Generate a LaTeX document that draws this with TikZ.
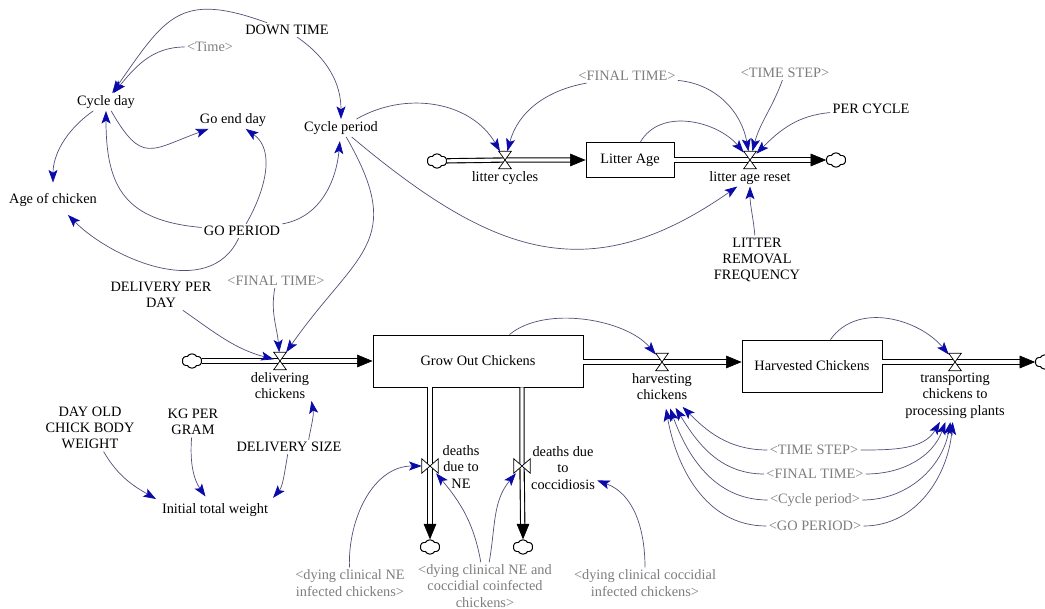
\documentclass[tikz,border=0pt]{standalone}
\usepackage{fontspec}
\setmainfont{Liberation Serif}
\usetikzlibrary{arrows.meta,shapes.symbols}

\definecolor{linkgray}{RGB}{80,80,120}
\definecolor{tipblue}{RGB}{10,10,170}
\definecolor{shadowgray}{RGB}{125,125,125}

\tikzset{
  var/.style={font=\fontsize{10.2}{11.6}\selectfont, align=center, inner sep=1.5pt},
  shadow/.style={var, text=shadowgray},
  stock/.style={var, draw, line width=0.6pt},
  link/.style={draw=linkgray, line width=0.5pt, -{Stealth[length=9pt, width=6.4pt, inset=2pt, color=tipblue]}},
  pipe/.style={draw=black, double=white, double distance=2.2pt, line width=0.8pt},
  pipeend/.style={pipe, shorten >=10pt},
  flowtip/.style={-{Triangle[length=11pt, width=9pt]}, line width=0.4pt},
  valveh/.style={minimum width=0.3cm, minimum height=0.42cm, inner sep=0},
  valvev/.style={minimum width=0.4cm, minimum height=0.35cm, inner sep=0},
  valveline/.style={draw, fill=white, line width=0.5pt},
  cloudy/.style={cloud, cloud puffs=6, cloud puff arc=120, aspect=1.3, draw, line width=0.7pt,
    minimum width=0.48cm, minimum height=0.36cm, inner sep=0}
}

\begin{document}
\begin{tikzpicture}[x=0.025cm, y=0.025cm]
\useasboundingbox (0,0) rectangle (1045,-609);

\node[var] (down) at (287,-30) {DOWN TIME};
\node[shadow] (time) at (210,-47) {\textless Time\textgreater};
\node[var] (cyday) at (106,-102) {Cycle day};
\node[var] (goend) at (233,-120) {Go end day};
\node[var] (cyper) at (341,-128) {Cycle period};
\node[var] (age) at (53,-200) {Age of chicken};
\node[var] (goper) at (242,-231) {GO PERIOD};

\node[cloudy] (cloudA) at (437,-161) {};
\node[valveh] (litcyc) at (505,-160) {};
\node[var, below] (litcycl) at (litcyc.south) {litter cycles};
\node[stock, minimum width=2.2cm, minimum height=0.875cm] (litage) at (630,-160) {Litter Age};
\node[valveh] (litres) at (750,-160) {};
\node[var, below] (litresl) at (litres.south) {litter age reset};
\node[cloudy] (cloudB) at (836,-160) {};
\node[shadow] (ftop) at (627,-76) {\textless FINAL TIME\textgreater};
\node[shadow] (tstep) at (785,-73) {\textless TIME STEP\textgreater};
\node[var] (percyc) at (871,-109) {PER CYCLE};
\node[var] (lrf) at (757,-260) {LITTER\\REMOVAL\\FREQUENCY};

\node[var] (dpd) at (161,-295) {DELIVERY PER\\DAY};
\node[shadow] (fmid) at (276,-281) {\textless FINAL TIME\textgreater};
\node[cloudy] (cloudC) at (192,-361) {};
\node[valveh] (deliv) at (280,-361) {};
\node[var, below] (delivl) at (deliv.south) {delivering\\chickens};
\node[stock, minimum width=5.25cm, minimum height=1.3cm] (grow) at (478,-361) {Grow Out Chickens};
\node[valveh] (harv) at (662,-362) {};
\node[var, below] (harvl) at (harv.south) {harvesting\\chickens};
\node[stock, minimum width=3.5cm, minimum height=1.3cm] (hchk) at (812,-366) {Harvested Chickens};
\node[valveh] (trans) at (955,-362) {};
\node[var, below] (transl) at (trans.south) {transporting\\chickens to\\processing plants};
\node[cloudy] (cloudD) at (1045,-362) {};

\node[var] (dob) at (90,-428) {DAY OLD\\CHICK BODY\\WEIGHT};
\node[var] (kg) at (193,-422) {KG PER\\GRAM};
\node[var] (dsize) at (289,-447) {DELIVERY SIZE};
\node[var] (itw) at (215,-510) {Initial total weight};

\node[valvev] (neval) at (430,-466) {};
\node[var] (nel) at (461,-467) {deaths\\due to\\NE};
\node[valvev] (ccval) at (522,-466) {};
\node[var] (ccl) at (563,-468) {deaths due\\to\\coccidiosis};
\node[cloudy] (cloudE) at (430,-547) {};
\node[cloudy] (cloudF) at (523,-547) {};
\node[shadow] (dne) at (350,-583) {\textless dying clinical NE\\infected chickens\textgreater};
\node[shadow] (dco) at (485,-586) {\textless dying clinical NE and\\coccidial coinfected\\chickens\textgreater};
\node[shadow] (dcc) at (645,-583) {\textless dying clinical coccidial\\infected chickens\textgreater};

\node[shadow] (sts) at (814,-450) {\textless TIME STEP\textgreater};
\node[shadow] (sft) at (815,-474) {\textless FINAL TIME\textgreater};
\node[shadow] (scp) at (815,-500) {\textless Cycle period\textgreater};
\node[shadow] (sgp) at (815,-526) {\textless GO PERIOD\textgreater};

\coordinate (hout) at (harv -| grow.east);
\coordinate (hin) at (harv -| hchk.west);
\coordinate (neout) at (neval |- grow.south);
\coordinate (ccout) at (ccval |- grow.south);

\draw[pipeend] (cloudA) -- (litcyc.center) -- (litage);
\draw[flowtip] ([xshift=-11pt]litage.west) -- (litage.west);
\draw[pipeend] (litage.east) -- (litres.center) -- (cloudB);
\draw[flowtip] ([xshift=-11pt]cloudB.west) -- (cloudB.west);
\draw[pipeend] (cloudC) -- (deliv.center) -- (grow);
\draw[flowtip] ([xshift=-11pt]grow.west) -- (grow.west);
\draw[pipeend] (hout) -- (harv.center) -- (hin);
\draw[flowtip] ([xshift=-11pt]hin) -- (hin);
\draw[pipeend] (trans -| hchk.east) -- (trans.center) -- (cloudD);
\draw[flowtip] ([xshift=-11pt]cloudD.west) -- (cloudD.west);
\draw[pipeend] (neout) -- (neval.center) -- (cloudE);
\draw[flowtip] ([yshift=11pt]cloudE.north) -- (cloudE.north);
\draw[pipeend] (ccout) -- (ccval.center) -- (cloudF);
\draw[flowtip] ([yshift=11pt]cloudF.north) -- (cloudF.north);

\foreach \v in {litcyc,litres,deliv,harv,trans}
\draw[valveline] (\v.north west) -- (\v.north east) -- (\v.south west) -- (\v.south east) -- cycle;
\foreach \v in {neval,ccval}
\draw[valveline] (\v.north west) -- (\v.south west) -- (\v.north east) -- (\v.south east) -- cycle;

\draw[link] (down) to[out=160, in=55, looseness=1.4] (cyday);
\draw[link] (time) to[out=180, in=50] (cyday);
\draw[link] (down) to[out=-35, in=90] (cyper);
\draw[link] (cyday) to[out=-60, in=200, looseness=1.6] (goend);
\draw[link, shorten >=6pt] (cyday) to[out=215, in=90] (age);
\draw[link] (goper) to[out=175, in=-90, looseness=1.3] (cyday);
\draw[link] (goper) to[out=60, in=-35] (goend);
\draw[link, shorten >=3pt] (goper) to[out=10, in=-95] (cyper);
\draw[link, shorten >=6pt] (goper) to[out=-115, in=-45] (age);

\draw[link] (cyper) to[out=30, in=120] (litcyc);
\draw[link] (ftop) to[out=190, in=75] (litcyc);
\draw[link] (ftop) to[out=-5, in=100] (litres);
\draw[link] (litage) to[out=60, in=130] (litres);
\draw[link] (tstep) to[out=-110, in=75] (litres);
\draw[link] (percyc) to[out=185, in=45] (litres);
\draw[link] (cyper) to[out=-40, in=215, looseness=1.2] (litresl);
\draw[link] (lrf) to[out=95, in=-90] (litresl);

\draw[link] (cyper) to[out=-60, in=55, looseness=1.4] (deliv);
\draw[link] (dpd) to[out=-35, in=165] (deliv);
\draw[link] (fmid) to[out=-100, in=95] (deliv);
\draw[link] (grow) to[out=40, in=130, looseness=0.8] (harv);
\draw[link] (hchk) to[out=55, in=130] (trans);
\draw[link] ([xshift=14pt]dsize.north) to[out=80, in=-80] (delivl.south east);
\draw[link, shorten >=3pt] (dsize) to[out=-100, in=50] (itw.north east);
\draw[link, shorten >=4pt] (kg) to[out=-95, in=125] (itw);
\draw[link, shorten >=3pt] (dob) to[out=-60, in=150] (itw.north west);

\draw[link] (dne) to[out=92, in=180] (neval);
\draw[link] (dco) to[out=100, in=-50] (neval);
\draw[link] (dco) to[out=80, in=-130] (ccval);
\draw[link] (dcc) to[out=90, in=-20] (ccl);

\foreach \s/\a/\b in {sts/-45/-120, sft/-58/-110, scp/-70/-100, sgp/-80/-95}{
\draw[link, shorten >=5pt] (\s.west) to[out=180, in=\a] (harvl);
\draw[link, shorten >=1pt] (\s.east) to[out=0, in=\b] (transl);
}

\end{tikzpicture}
\end{document}
